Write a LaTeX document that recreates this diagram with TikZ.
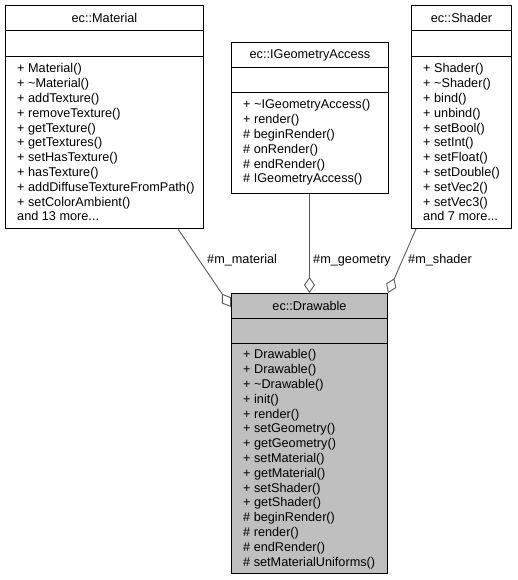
\documentclass[tikz,border=0pt]{standalone}
\usepackage{fontspec}
\setmainfont{Liberation Sans}
\usepackage{tikz}
\usetikzlibrary{positioning,calc,arrows.meta}

\begin{document}
\begin{tikzpicture}[x=1pt,y=-1pt]
	\definecolor{edgegray}{RGB}{90,90,90}
	\definecolor{clsgray}{RGB}{191,191,191}
	\tikzset{
		cls/.style={
			draw=black,
			line width=1pt,
			fill=white,
			inner sep=0pt,
			anchor=north west
		},
		ttl/.style={
			inner sep=0pt,
			font=\fontsize{12.7}{14.8}\selectfont
		},
		mbr/.style={
			inner sep=0pt,
			anchor=north west,
			align=left,
			font=\fontsize{12.7}{14.8}\selectfont
		},
		sep/.style={
			draw=black,
			line width=1pt
		},
		agg/.style={
			draw=edgegray,
			line width=0.9pt,
			-{Diamond[fill=white, length=16pt, width=11pt, line width=0.9pt]}
		},
		lbl/.style={
			inner sep=0pt,
			anchor=west,
			font=\fontsize{12.7}{14.8}\selectfont
		}
	}
	\useasboundingbox (0,0) rectangle (517,580);
	
	% ======= ec::Material =======
	\node[cls, minimum width=198pt, minimum height=223pt] (material) at (5,5) {};
	\draw[sep] ([yshift=-26pt]material.north west) -- ([yshift=-26pt]material.north east);
	\draw[sep] ([yshift=-52pt]material.north west) -- ([yshift=-52pt]material.north east);
	\node[ttl] (material-t) at ([yshift=-13pt]material.north) {ec::Material};
	\node[mbr] (material-m) at ([xshift=12pt,yshift=-58.5pt]material.north west) {%
		+ Material()\\ + \textasciitilde Material()\\ + addTexture()\\ + removeTexture()\\
		+ getTexture()\\ + getTextures()\\ + setHasTexture()\\ + hasTexture()\\
		+ addDiffuseTextureFromPath()\\ + setColorAmbient()\\ and 13 more...};
	
	% ======= ec::IGeometryAccess =======
	\node[cls, minimum width=157pt, minimum height=151pt] (igeom) at (231,42) {};
	\draw[sep] ([yshift=-25.5pt]igeom.north west) -- ([yshift=-25.5pt]igeom.north east);
	\draw[sep] ([yshift=-51pt]igeom.north west) -- ([yshift=-51pt]igeom.north east);
	\node[ttl] (igeom-t) at ([yshift=-13pt]igeom.north) {ec::IGeometryAccess};
	\node[mbr] (igeom-m) at ([xshift=12pt,yshift=-57.5pt]igeom.north west) {%
		+ \textasciitilde IGeometryAccess()\\ + render()\\ \# beginRender()\\
		\# onRender()\\ \# endRender()\\ \# IGeometryAccess()};
	
	% ======= ec::Shader =======
	\node[cls, minimum width=100pt, minimum height=223pt] (shader) at (411,5) {};
	\draw[sep] ([yshift=-26pt]shader.north west) -- ([yshift=-26pt]shader.north east);
	\draw[sep] ([yshift=-52pt]shader.north west) -- ([yshift=-52pt]shader.north east);
	\node[ttl] (shader-t) at ([yshift=-13pt]shader.north) {ec::Shader};
	\node[mbr] (shader-m) at ([xshift=12pt,yshift=-58.5pt]shader.north west) {%
		+ Shader()\\ + \textasciitilde Shader()\\ + bind()\\ + unbind()\\ + setBool()\\
		+ setInt()\\ + setFloat()\\ + setDouble()\\ + setVec2()\\ + setVec3()\\ and 7 more...};
	
	% ======= ec::Drawable =======
	\node[cls, fill=clsgray, minimum width=156pt, minimum height=280pt] (drawable) at (231,293) {};
	\draw[sep] ([yshift=-25pt]drawable.north west) -- ([yshift=-25pt]drawable.north east);
	\draw[sep] ([yshift=-50pt]drawable.north west) -- ([yshift=-50pt]drawable.north east);
	\node[ttl] (drawable-t) at ([yshift=-12.5pt]drawable.north) {ec::Drawable};
	\node[mbr] (drawable-m) at ([xshift=12pt,yshift=-56.5pt]drawable.north west) {%
		+ Drawable()\\ + Drawable()\\ + \textasciitilde Drawable()\\ + init()\\ + render()\\
		+ setGeometry()\\ + getGeometry()\\ + setMaterial()\\ + getMaterial()\\
		+ setShader()\\ + getShader()\\ \# beginRender()\\ \# render()\\ \# endRender()\\
		\# setMaterialUniforms()};
	
	% ======= members =======
	\draw[agg] ([xshift=173pt]material.south west) -- ([yshift=-14pt]drawable.north west);
	\draw[agg] (igeom.south -| drawable.north) -- (drawable.north);
	\draw[agg] ([xshift=5pt]shader.south west) -- (drawable.north east);
	
	\node[lbl] (lbl-mat) at (207,260) {\#m\_material};
	\node[lbl] (lbl-geo) at (313,260) {\#m\_geometry};
	\node[lbl] (lbl-shd) at (408,260) {\#m\_shader};
\end{tikzpicture}
\end{document}
